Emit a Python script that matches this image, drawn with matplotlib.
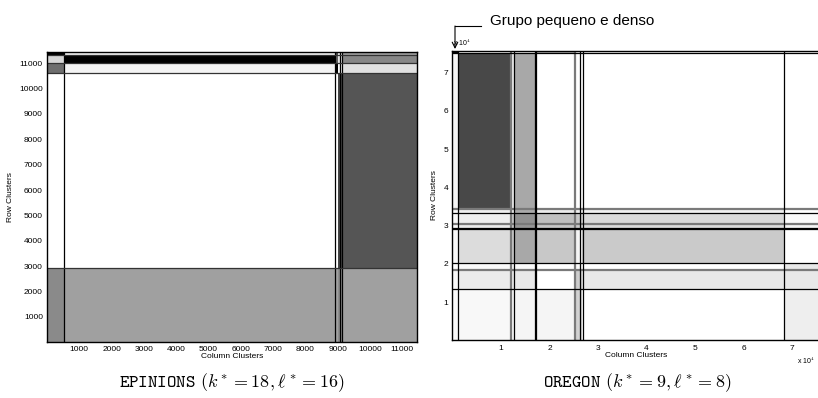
import numpy as np
import matplotlib.pyplot as plt

plt.rcParams['font.family'] = ['Liberation Sans', 'DejaVu Sans']
plt.rcParams['mathtext.fontset'] = 'cm'

# --- EPINIONS (left) ---
ep_col_edges = [0, 536, 8926, 9010, 9130, 11450]
ep_row_edges = [0, 2910, 10624, 11016, 11341, 11450]
# gray levels (0 black .. 255 white), rows bottom -> top
ep_gray = [
    [138, 160, 160, 140, 160],
    [255, 255, 255, 70, 85],
    [110, 244, 0, 250, 225],
    [215, 0, 100, 230, 135],
    [0, 245, 80, 240, 160],
]
ep_vlines = [536, 8926, 9060, 9130]
ep_hlines = [2910, 10624, 11016, 11341]
ep_ticks = [1000, 2000, 3000, 4000, 5000, 6000, 7000, 8000, 9000, 10000, 11000]

# --- OREGON (right), units of 10^4 ---
or_col_edges = [0, 0.115, 1.20, 1.267, 1.70, 2.535, 2.665, 6.83, 7.575]
or_row_edges = [0, 1.34, 1.83, 2.02, 2.92, 3.05, 3.33, 3.43, 7.51, 7.575]
or_gray = [
    [250, 248, 248, 245, 245, 210, 255, 238],
    [250, 235, 235, 232, 255, 205, 232, 232],
    [255, 250, 250, 250, 255, 250, 255, 232],
    [250, 220, 200, 168, 200, 245, 202, 255],
    [250, 235, 200, 150, 200, 200, 220, 245],
    [250, 238, 200, 145, 192, 200, 218, 250],
    [250, 238, 235, 170, 235, 240, 240, 255],
    [245, 72, 235, 168, 255, 255, 255, 255],
    [0, 255, 255, 255, 180, 255, 255, 255],
]
or_vlines_black = [0.115, 1.267, 1.70, 1.72, 2.64, 2.69, 6.83]
or_vlines_gray = [1.20, 2.535]
or_hlines_black = [1.34, 2.02, 2.90, 2.94, 3.33, 7.51]
or_hlines_gray = [1.83, 3.05, 3.43]
or_ticks = [1, 2, 3, 4, 5, 6, 7]

fig = plt.figure(figsize=(8.18, 3.98), dpi=100)
fs = 6

# left panel
ax1 = fig.add_axes([0.0575, 0.140, 0.452, 0.730])
ax1.pcolormesh(ep_col_edges, ep_row_edges, np.array(ep_gray), cmap='gray', vmin=0, vmax=255)
for v in ep_vlines:
    ax1.axvline(v, color='black', lw=0.9)
for h in ep_hlines:
    ax1.axhline(h, color='#333333', lw=0.9)
ax1.set_xlim(0, 11450)
ax1.set_ylim(0, 11450)
ax1.set_xticks(ep_ticks)
ax1.set_yticks(ep_ticks)
ax1.tick_params(length=0, labelsize=fs, pad=3)
ax1.set_xlabel('Column Clusters', fontsize=fs, labelpad=0)
ax1.set_ylabel('Row Clusters', fontsize=fs, labelpad=4)
for s in ax1.spines.values():
    s.set_linewidth(1.0)

# right panel
ax2 = fig.add_axes([0.553, 0.1447, 0.4495, 0.728])
ax2.pcolormesh(or_col_edges, or_row_edges, np.array(or_gray), cmap='gray', vmin=0, vmax=255)
for v in or_vlines_gray:
    ax2.axvline(v, color='#7a7a7a', lw=1.6)
for h in or_hlines_gray:
    ax2.axhline(h, color='#7a7a7a', lw=1.6)
for v in or_vlines_black:
    ax2.axvline(v, color='black', lw=0.9)
for h in or_hlines_black:
    ax2.axhline(h, color='black', lw=0.9)
ax2.set_xlim(0, 7.575)
ax2.set_ylim(0, 7.575)
ax2.set_xticks(or_ticks)
ax2.set_yticks(or_ticks)
ax2.tick_params(length=0, labelsize=fs, pad=3)
ax2.set_xlabel('Column Clusters', fontsize=fs, labelpad=0)
ax2.set_ylabel('Row Clusters', fontsize=fs, labelpad=4)
for s in ax2.spines.values():
    s.set_linewidth(1.0)

fig.text(453 / 818, 1 - 43 / 398, r'x 10$^4$', fontsize=5, ha='left', va='center')
fig.text(797 / 818, 1 - 361 / 398, r'x 10$^4$', fontsize=5, ha='left', va='center')

# annotation
fig.add_artist(plt.Line2D([481 / 818, 455 / 818], [1 - 26 / 398, 1 - 26 / 398],
                          color='black', lw=0.8))
ax2.annotate('', xy=(455 / 818, 1 - 49 / 398), xytext=(455 / 818, 1 - 26 / 398),
             xycoords='figure fraction', textcoords='figure fraction',
             arrowprops=dict(arrowstyle='->', lw=0.8, color='black',
                             shrinkA=0, shrinkB=0))
fig.text(490 / 818, 1 - 21 / 398, 'Grupo pequeno e denso', fontsize=11,
         ha='left', va='center')

# captions
fig.text(232 / 818, 1 - 383 / 398, r'$\mathtt{EPINIONS}\ (k^* = 18, \ell^* = 16)$',
         fontsize=13, ha='center', va='center')
fig.text(637 / 818, 1 - 383 / 398, r'$\mathtt{OREGON}\ (k^* = 9, \ell^* = 8)$',
         fontsize=13, ha='center', va='center')

fig.savefig('out.png', dpi=100)
